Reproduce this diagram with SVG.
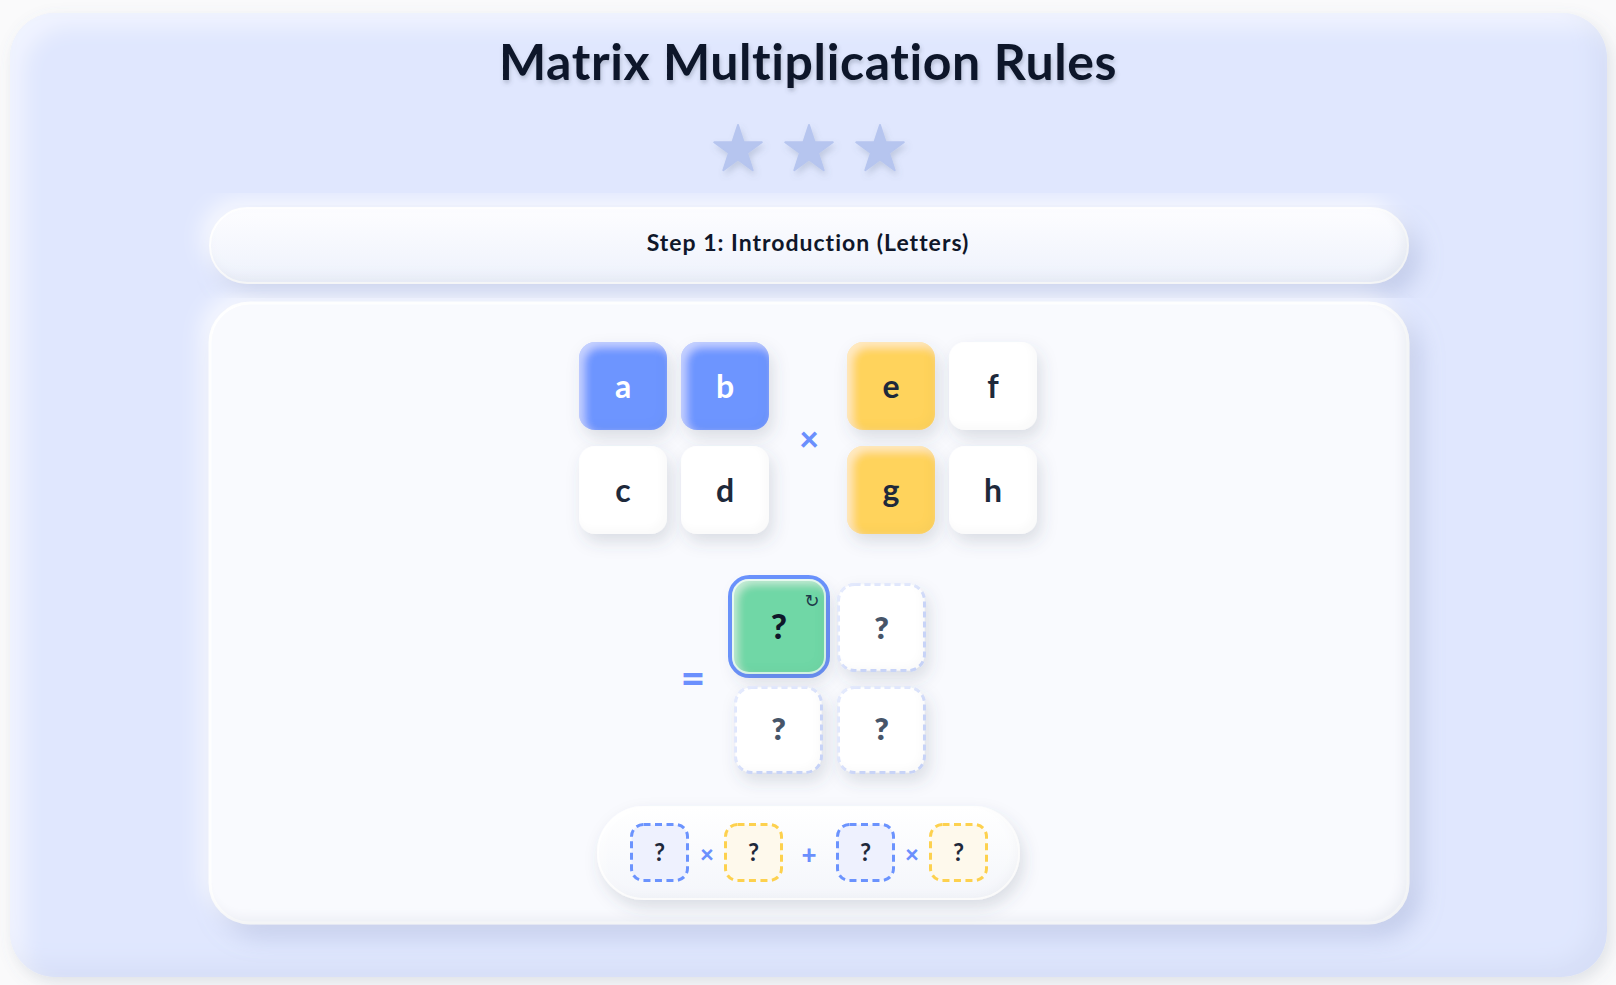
<svg xmlns="http://www.w3.org/2000/svg" width="1616" height="985" viewBox="0 0 1616 985">
<defs>
<style>
.f{font-family:Lato,"Noto Sans","DejaVu Sans",sans-serif;}
.title{font-size:50px;font-weight:700;fill:#0f172a;text-anchor:middle;letter-spacing:0.6px;}
.step{font-size:23px;font-weight:700;fill:#0f172a;text-anchor:middle;letter-spacing:1px;}
.lt{font-size:32px;font-weight:700;fill:#1e293b;text-anchor:middle;}
.lw{fill:#ffffff;}
.q{font-size:31px;font-weight:800;fill:#475569;text-anchor:middle;}
.qg{font-size:35px;font-weight:900;fill:#0f172a;text-anchor:middle;}
.qs{font-size:24px;font-weight:700;fill:#1e293b;text-anchor:middle;}
.op{font-weight:900;fill:#6b8ffd;text-anchor:middle;}
.blue{fill:#6d95ff;}
.yel{fill:#ffd35c;}
.wht{fill:#ffffff;}
.dash{fill:#ffffff;stroke:#c9d6fc;stroke-width:3;stroke-dasharray:6 4;}
.sb{fill:#eef1fe;stroke:#6b93fe;stroke-width:3;stroke-dasharray:7 4.5;}
.sy{fill:#fef9ec;stroke:#fdd14e;stroke-width:3;stroke-dasharray:7 4.5;}
.star{fill:#b6c5ef;stroke:#b6c5ef;stroke-width:2;stroke-linejoin:round;}
</style>
<filter id="outer" x="-5%" y="-5%" width="110%" height="110%">
 <feGaussianBlur in="SourceAlpha" stdDeviation="8" result="sb"/>
 <feOffset in="sb" dx="4" dy="6" result="so"/>
 <feFlood flood-color="#64748b" flood-opacity="0.18"/>
 <feComposite in2="so" operator="in" result="shadow"/>
 <feGaussianBlur in="SourceAlpha" stdDeviation="10" result="b"/>
 <feOffset in="b" dx="14" dy="14" result="ob"/>
 <feComposite in="SourceAlpha" in2="ob" operator="out" result="rim"/>
 <feFlood flood-color="#ffffff" flood-opacity="0.5"/>
 <feComposite in2="rim" operator="in" result="hl"/>
 <feOffset in="b" dx="-14" dy="-14" result="ob2"/>
 <feComposite in="SourceAlpha" in2="ob2" operator="out" result="rim2"/>
 <feFlood flood-color="#94a3c8" flood-opacity="0.14"/>
 <feComposite in2="rim2" operator="in" result="dk"/>
 <feMerge><feMergeNode in="shadow"/><feMergeNode in="SourceGraphic"/><feMergeNode in="hl"/><feMergeNode in="dk"/></feMerge>
</filter>
<filter id="panel" x="-10%" y="-20%" width="120%" height="140%">
 <feGaussianBlur in="SourceAlpha" stdDeviation="12" result="sb"/>
 <feOffset in="sb" dx="10" dy="12" result="so"/>
 <feFlood flood-color="#8796c4" flood-opacity="0.35"/>
 <feComposite in2="so" operator="in" result="shadow"/>
 <feGaussianBlur in="SourceAlpha" stdDeviation="10" result="sb2"/>
 <feOffset in="sb2" dx="-8" dy="-8" result="so2"/>
 <feFlood flood-color="#ffffff" flood-opacity="0.7"/>
 <feComposite in2="so2" operator="in" result="glow"/>
 <feGaussianBlur in="SourceAlpha" stdDeviation="6" result="b"/>
 <feOffset in="b" dx="-6" dy="-6" result="ob2"/>
 <feComposite in="SourceAlpha" in2="ob2" operator="out" result="rim2"/>
 <feFlood flood-color="#94a3b8" flood-opacity="0.18"/>
 <feComposite in2="rim2" operator="in" result="dk"/>
 <feMerge><feMergeNode in="glow"/><feMergeNode in="shadow"/><feMergeNode in="SourceGraphic"/><feMergeNode in="dk"/></feMerge>
</filter>
<filter id="cell" x="-30%" y="-30%" width="160%" height="160%">
 <feGaussianBlur in="SourceAlpha" stdDeviation="8" result="sb"/>
 <feOffset in="sb" dx="4" dy="8" result="so"/>
 <feFlood flood-color="#475569" flood-opacity="0.17"/>
 <feComposite in2="so" operator="in" result="shadow"/>
 <feGaussianBlur in="SourceAlpha" stdDeviation="4" result="b"/>
 <feOffset in="b" dx="5" dy="5" result="ob"/>
 <feComposite in="SourceAlpha" in2="ob" operator="out" result="rim"/>
 <feFlood flood-color="#ffffff" flood-opacity="0.5"/>
 <feComposite in2="rim" operator="in" result="hl"/>
 <feOffset in="b" dx="-4" dy="-4" result="ob2"/>
 <feComposite in="SourceAlpha" in2="ob2" operator="out" result="rim2"/>
 <feFlood flood-color="#000000" flood-opacity="0.05"/>
 <feComposite in2="rim2" operator="in" result="dk"/>
 <feMerge><feMergeNode in="shadow"/><feMergeNode in="SourceGraphic"/><feMergeNode in="hl"/><feMergeNode in="dk"/></feMerge>
</filter>
<filter id="soft" x="-30%" y="-30%" width="160%" height="160%">
 <feDropShadow dx="2" dy="4" stdDeviation="3" flood-color="#64748b" flood-opacity="0.25"/>
</filter>
<filter id="tsh" x="-10%" y="-30%" width="120%" height="160%">
 <feDropShadow dx="1" dy="3" stdDeviation="2" flood-color="#475569" flood-opacity="0.3"/>
</filter>
<linearGradient id="ban" x1="0" y1="0" x2="0" y2="1">
 <stop offset="0" stop-color="#fdfdff"/><stop offset="1" stop-color="#eef2fc"/>
</linearGradient>
<linearGradient id="pill" x1="0" y1="0" x2="0" y2="1">
 <stop offset="0" stop-color="#ffffff"/><stop offset="1" stop-color="#f4f6fb"/>
</linearGradient>
<polygon id="star" points="0,-25 5.61,-7.73 23.78,-7.73 9.08,2.95 14.69,20.23 0,9.55 -14.69,20.23 -9.08,2.95 -23.78,-7.73 -5.61,-7.73"/>
</defs>

<rect width="1616" height="985" fill="#fafafb"/>

<g id="card">
 <rect x="10" y="13" width="1597" height="964" rx="45" fill="#e0e7fe" filter="url(#outer)"/>
</g>

<g id="title">
 <text class="f title" x="808" y="80" filter="url(#tsh)">Matrix Multiplication Rules</text>
</g>

<g id="stars" filter="url(#soft)">
 <use href="#star" class="star" transform="translate(738,150)"/>
 <use href="#star" class="star" transform="translate(809,150)"/>
 <use href="#star" class="star" transform="translate(880,150)"/>
</g>

<g id="step-banner">
 <rect x="210" y="208" width="1198" height="75" rx="37.5" fill="url(#ban)" stroke="#ffffff" stroke-width="2" filter="url(#panel)"/>
 <text class="f step" x="808" y="251">Step 1: Introduction (Letters)</text>
</g>

<g id="main-panel">
 <rect x="210" y="303" width="1198" height="620" rx="40" fill="#f9fafe" stroke="#ffffff" stroke-width="3" filter="url(#panel)"/>
</g>

<g id="matrix-a">
 <g id="cell-a"><rect x="579" y="342" width="88" height="88" rx="16" class="blue" filter="url(#cell)"/><text class="f lt lw" x="623" y="398">a</text></g>
 <g id="cell-b"><rect x="681" y="342" width="88" height="88" rx="16" class="blue" filter="url(#cell)"/><text class="f lt lw" x="725" y="398">b</text></g>
 <g id="cell-c"><rect x="579" y="446" width="88" height="88" rx="16" class="wht" filter="url(#cell)"/><text class="f lt" x="623" y="502">c</text></g>
 <g id="cell-d"><rect x="681" y="446" width="88" height="88" rx="16" class="wht" filter="url(#cell)"/><text class="f lt" x="725" y="502">d</text></g>
</g>

<g id="times-op"><text class="f op" x="809" y="451" font-size="34">×</text></g>

<g id="matrix-b">
 <g id="cell-e"><rect x="847" y="342" width="88" height="88" rx="16" class="yel" filter="url(#cell)"/><text class="f lt" x="891" y="398">e</text></g>
 <g id="cell-f"><rect x="949" y="342" width="88" height="88" rx="16" class="wht" filter="url(#cell)"/><text class="f lt" x="993" y="398">f</text></g>
 <g id="cell-g"><rect x="847" y="446" width="88" height="88" rx="16" class="yel" filter="url(#cell)"/><text class="f lt" x="891" y="502">g</text></g>
 <g id="cell-h"><rect x="949" y="446" width="88" height="88" rx="16" class="wht" filter="url(#cell)"/><text class="f lt" x="993" y="502">h</text></g>
</g>

<g id="equals-op"><text class="f op" x="693" y="693" font-size="42">=</text></g>

<g id="result-matrix">
 <g id="r11">
  <rect x="730.5" y="577.5" width="97" height="98" rx="19" fill="none" stroke="#6b93fe" stroke-width="5"/>
  <rect x="733" y="580" width="92" height="93" rx="16" fill="#6fd7a6" stroke="#d4f5e4" stroke-width="2" filter="url(#cell)"/>
  <text class="f qg" x="779" y="639">?</text>
  <text x="812" y="607" font-family="'DejaVu Sans',sans-serif" font-size="18" fill="#1e3a4a" text-anchor="middle">↻</text>
 </g>
 <g id="r12"><rect x="838.5" y="584.5" width="86" height="86" rx="16" class="dash" filter="url(#cell)"/><text class="f q" x="881.5" y="639">?</text></g>
 <g id="r21"><rect x="735.5" y="687.5" width="86" height="85" rx="16" class="dash" filter="url(#cell)"/><text class="f q" x="778.5" y="740">?</text></g>
 <g id="r22"><rect x="838.5" y="687.5" width="86" height="85" rx="16" class="dash" filter="url(#cell)"/><text class="f q" x="881.5" y="740">?</text></g>
</g>

<g id="formula">
 <rect x="598" y="807" width="421" height="92" rx="46" fill="url(#pill)" stroke="#ffffff" stroke-width="2" filter="url(#cell)"/>
 <g id="f1"><rect x="631.5" y="824.5" width="56" height="56" rx="12" class="sb"/><text class="f qs" x="659.5" y="861">?</text></g>
 <text class="f op" x="707" y="863" font-size="24">×</text>
 <g id="f2"><rect x="725.5" y="824.5" width="56" height="56" rx="12" class="sy"/><text class="f qs" x="753.5" y="861">?</text></g>
 <text class="f op" x="809" y="864" font-size="26">+</text>
 <g id="f3"><rect x="837.5" y="824.5" width="56" height="56" rx="12" class="sb"/><text class="f qs" x="865.5" y="861">?</text></g>
 <text class="f op" x="912" y="863" font-size="24">×</text>
 <g id="f4"><rect x="930.5" y="824.5" width="56" height="56" rx="12" class="sy"/><text class="f qs" x="958.5" y="861">?</text></g>
</g>

<g id="connectors"/>
</svg>
